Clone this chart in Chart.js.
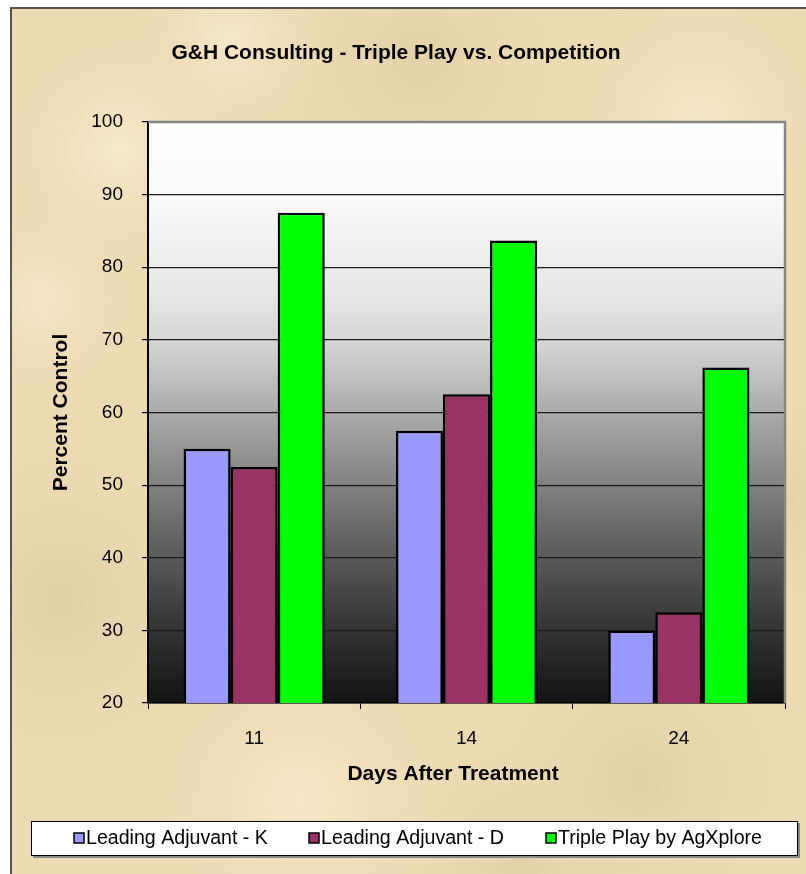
<!DOCTYPE html>
<html>
<head>
<meta charset="utf-8">
<script src="https://cdn.jsdelivr.net/npm/chart.js@4.4.0/dist/chart.umd.min.js"></script>
<style>
  html, body { margin: 0; padding: 0; background: #fff; }
  #wrap { width: 806px; height: 874px; }
</style>
</head>
<body>
<div id="wrap"><canvas id="chart" width="806" height="874"></canvas></div>
<script>
// data
const chartTitle = "G&H Consulting - Triple Play vs. Competition";
const xTitle = "Days After Treatment";
const yTitle = "Percent Control";
const days = ["11", "14", "24"];
const seriesNames = ["Leading Adjuvant - K", "Leading Adjuvant - D", "Triple Play by AgXplore"];
const adjuvantK = [55, 57.5, 30];
const adjuvantD = [52.5, 62.5, 32.5];
const triplePlay = [87.5, 83.7, 66.2];
const yMin = 20, yMax = 100, yStep = 10;

const FONT = "'Liberation Sans', Arial, sans-serif";

function start() {
    // parchment blotches (style only)
    const spots = [
        [120, 150, 140, 'rgba(255,245,220,0.55)'], [420, 60, 160, 'rgba(214,190,145,0.35)'],
        [700, 120, 150, 'rgba(255,244,215,0.5)'], [60, 600, 170, 'rgba(210,186,140,0.35)'],
        [300, 800, 180, 'rgba(255,243,214,0.5)'], [640, 780, 160, 'rgba(212,188,142,0.35)'],
        [780, 500, 120, 'rgba(214,190,145,0.3)'], [40, 300, 120, 'rgba(255,244,218,0.45)'],
        [520, 860, 130, 'rgba(210,186,140,0.3)'], [230, 40, 110, 'rgba(255,246,222,0.5)']
    ];

    const backdrop = {
        id: 'backdrop',
        beforeDraw(chart) {
            const {ctx, width, height, chartArea: a} = chart;
            ctx.save();
            ctx.fillStyle = '#fff';
            ctx.fillRect(0, 0, width, height);
            ctx.fillStyle = '#ECDAB3';
            ctx.fillRect(10, 7, width - 10, height - 7);
            ctx.beginPath();
            ctx.rect(10, 7, width - 10, height - 7);
            ctx.clip();
            spots.forEach(([x, y, r, c]) => {
                const g = ctx.createRadialGradient(x, y, 0, x, y, r);
                g.addColorStop(0, c);
                g.addColorStop(1, 'rgba(236,218,179,0)');
                ctx.fillStyle = g;
                ctx.fillRect(x - r, y - r, r * 2, r * 2);
            });
            ctx.restore();

            // outer frame, left and top
            ctx.save();
            ctx.strokeStyle = '#5a5448';
            ctx.lineWidth = 2;
            ctx.beginPath();
            ctx.moveTo(11, height);
            ctx.lineTo(11, 8);
            ctx.lineTo(width, 8);
            ctx.stroke();

            // plot area gradient
            const pg = ctx.createLinearGradient(0, a.top, 0, a.bottom);
            pg.addColorStop(0, '#ffffff');
            pg.addColorStop(0.12, '#fbfbfb');
            pg.addColorStop(0.3, '#e6e6e6');
            pg.addColorStop(0.375, '#d6d6d6');
            pg.addColorStop(0.5, '#aaaaaa');
            pg.addColorStop(0.625, '#818181');
            pg.addColorStop(0.75, '#595959');
            pg.addColorStop(0.875, '#333333');
            pg.addColorStop(1, '#131313');
            ctx.fillStyle = pg;
            ctx.fillRect(a.left, a.top, a.right - a.left, a.bottom - a.top);
            ctx.restore();
        },
        beforeDatasetsDraw(chart) {
            const {ctx, chartArea: a} = chart;
            ctx.save();
            ctx.strokeStyle = '#858585';
            ctx.lineWidth = 2.5;
            ctx.beginPath();
            ctx.moveTo(a.left, a.top);
            ctx.lineTo(a.right, a.top);
            ctx.lineTo(a.right, a.bottom);
            ctx.stroke();
            ctx.restore();
        },
        afterDraw(chart) {
            const {ctx} = chart;
            ctx.save();
            ctx.fillStyle = '#000';
            ctx.textBaseline = 'middle';
            ctx.textAlign = 'center';

            // chart title
            ctx.font = `bold 21px ${FONT}`;
            ctx.fillText(chartTitle, 396, 53);

            // x axis title (sits a little left of the plot centre)
            ctx.font = `bold 21px ${FONT}`;
            ctx.fillText(xTitle, 453, 774);

            // legend box
            ctx.fillStyle = '#fff';
            ctx.fillRect(31, 821, 767, 34);
            ctx.strokeStyle = '#000';
            ctx.lineWidth = 1;
            ctx.strokeRect(31.5, 821.5, 766, 34);
            ctx.strokeStyle = '#8a8a8a';
            ctx.lineWidth = 2;
            ctx.beginPath();
            ctx.moveTo(799, 823);
            ctx.lineTo(799, 857);
            ctx.lineTo(33, 857);
            ctx.stroke();

            const itemX = [74, 309, 546];
            ctx.font = `19.6px ${FONT}`;
            ctx.textAlign = 'left';
            chart.data.datasets.forEach((ds, i) => {
                const x = itemX[i];
                ctx.fillStyle = ds.backgroundColor;
                ctx.fillRect(x, 833, 10, 10);
                ctx.strokeStyle = '#000';
                ctx.lineWidth = 1.5;
                ctx.strokeRect(x, 833, 10, 10);
                ctx.fillStyle = '#000';
                ctx.fillText(ds.label, x + 12, 839);
            });
            ctx.restore();
        }
    };

    const ctx = document.getElementById('chart').getContext('2d');
    new Chart(ctx, {
        type: 'bar',
        data: {
            labels: days,
            datasets: [
                { label: seriesNames[0], data: adjuvantK, backgroundColor: '#9999FF' },
                { label: seriesNames[1], data: adjuvantD, backgroundColor: '#993366' },
                { label: seriesNames[2], data: triplePlay, backgroundColor: '#00FF00' }
            ]
        },
        options: {
            responsive: false,
            animation: false,
            devicePixelRatio: 1,
            layout: { padding: { left: 40, right: 21, top: 122, bottom: 71 } },
            datasets: {
                bar: {
                    borderColor: '#000',
                    borderWidth: 2.5,
                    categoryPercentage: 0.665,
                    barPercentage: 1
                }
            },
            plugins: {
                legend: { display: false },
                title: { display: false },
                tooltip: { enabled: false }
            },
            scales: {
                x: {
                    afterFit(scale) { scale.height = 100; },
                    grid: {
                        drawOnChartArea: false,
                        drawTicks: true,
                        tickLength: 6,
                        tickColor: '#000',
                        offset: true
                    },
                    border: { display: true, color: '#000', width: 1.5 },
                    ticks: {
                        color: '#000',
                        padding: 18,
                        font: { family: FONT, size: 19 }
                    }
                },
                y: {
                    min: yMin,
                    max: yMax,
                    afterFit(scale) { scale.width = 108; },
                    grid: {
                        color: (c) => (c.tick && c.tick.value === yMax) ? 'rgba(0,0,0,0)' : '#1a1a1a',
                        lineWidth: 1.2,
                        tickLength: 6,
                        tickColor: '#000'
                    },
                    border: { display: true, color: '#000', width: 2 },
                    ticks: {
                        stepSize: yStep,
                        color: '#000',
                        padding: 19,
                        font: { family: FONT, size: 19 }
                    },
                    title: {
                        display: true,
                        text: yTitle,
                        color: '#000',
                        font: { family: FONT, size: 21, weight: 'bold' },
                        padding: { top: 9, bottom: 0 }
                    }
                }
            }
        },
        plugins: [backdrop]
    });
}

window.addEventListener('load', start, false);
</script>
</body>
</html>
